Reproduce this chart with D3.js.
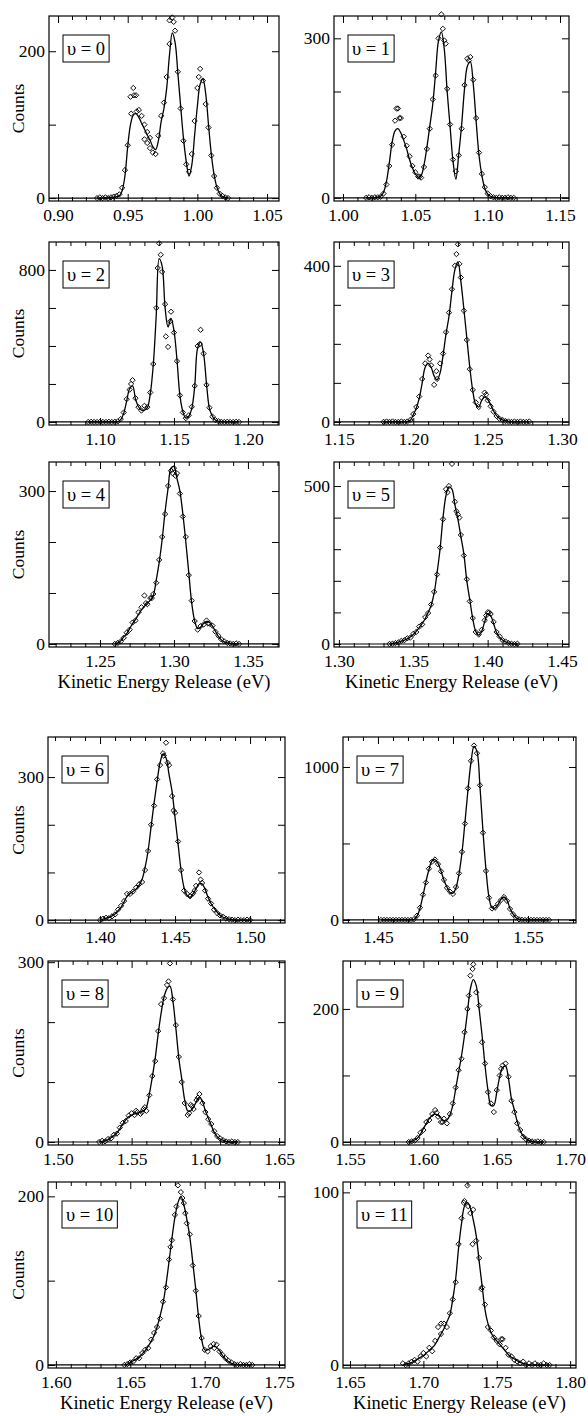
<!DOCTYPE html>
<html>
<head>
<meta charset="utf-8">
<script src="https://cdn.jsdelivr.net/npm/d3@7"></script>
<style>
  body { margin: 0; background: #fff; }
  svg text { font-family: "Liberation Serif", "DejaVu Serif", "Noto Serif", "Times New Roman", serif; fill: #000; }
</style>
</head>
<body>
<div id="chart"></div>
<script>
// each row: [kinetic energy (eV), measured counts, fitted counts]
var v0 = [
  [0.928,0,0],[0.930,1,0],[0.932,0,0],[0.934,1,0],[0.936,0,0],[0.938,1,1],[0.940,2,1],[0.942,3,2],
  [0.944,5,3],[0.946,14,10],[0.948,38,30],[0.950,72,70],[0.952,138,100],[0.954,150,113],[0.956,140,115],
  [0.958,120,110],[0.960,112,102],[0.962,100,94],[0.964,90,86],[0.966,82,79],[0.968,62,70],[0.970,60,66],
  [0.972,85,78],[0.974,112,104],[0.976,130,122],[0.978,165,150],[0.980,210,195],[0.982,246,225],
  [0.984,228,212],[0.986,172,170],[0.988,122,125],[0.990,78,82],[0.992,46,50],[0.994,36,30],[0.996,60,45],
  [0.998,105,85],[1.000,150,125],[1.002,176,155],[1.004,160,162],[1.006,128,142],[1.008,96,100],
  [1.010,58,60],[1.012,30,32],[1.014,14,15],[1.016,6,6],[1.018,3,2],[1.020,1,1],[1.022,0,0]
];
var v0Extra = [[0.9525,115],[0.9545,140],[0.9565,118],[0.962,80],[0.964,75],[0.966,68],[0.980,242],[0.983,240],[1.001,165]];

var v1 = [
  [1.016,0,0],[1.018,1,0],[1.020,0,0],[1.022,1,0],[1.024,1,1],[1.026,2,3],[1.028,8,10],[1.030,25,30],
  [1.032,60,65],[1.034,100,105],[1.036,145,126],[1.038,168,130],[1.040,150,122],[1.042,115,108],
  [1.044,98,92],[1.046,78,72],[1.048,60,56],[1.050,48,45],[1.052,40,39],[1.054,38,42],[1.056,58,62],
  [1.058,92,95],[1.060,130,135],[1.062,185,175],[1.064,230,235],[1.066,300,295],[1.068,345,312],
  [1.070,296,280],[1.072,205,200],[1.074,138,135],[1.076,72,70],[1.078,50,35],[1.080,80,82],
  [1.082,130,137],[1.084,212,205],[1.086,262,248],[1.088,265,256],[1.090,222,215],[1.092,150,145],
  [1.094,85,80],[1.096,45,42],[1.098,20,18],[1.100,8,7],[1.102,3,3],[1.104,1,1],[1.106,0,0],
  [1.108,1,0],[1.110,0,0],[1.112,0,0],[1.114,1,0],[1.116,0,0],[1.118,0,0]
];
var v1Extra = [[1.037,168],[1.039,150],[1.069,318],[1.071,290],[1.087,258],[1.053,40]];

var v2 = [
  [1.092,0,0],[1.094,1,0],[1.096,0,0],[1.098,0,0],[1.100,1,0],[1.102,0,0],[1.104,0,0],[1.106,1,0],
  [1.108,0,0],[1.110,1,0],[1.112,3,2],[1.114,15,12],[1.116,50,45],[1.118,120,110],[1.120,170,175],
  [1.122,220,190],[1.124,125,120],[1.126,78,80],[1.128,60,62],[1.130,85,62],[1.132,78,75],
  [1.134,155,150],[1.136,305,300],[1.138,600,560],[1.140,940,860],[1.142,790,820],[1.144,620,600],
  [1.146,395,500],[1.148,580,545],[1.150,470,480],[1.152,320,330],[1.154,140,140],[1.156,50,55],
  [1.158,20,20],[1.160,35,30],[1.162,80,70],[1.164,190,185],[1.166,400,390],[1.168,485,420],
  [1.170,360,360],[1.172,195,200],[1.174,75,70],[1.176,28,30],[1.178,10,10],[1.180,4,3],[1.182,1,1],
  [1.184,0,0],[1.186,1,0],[1.188,0,0],[1.190,0,0],[1.192,1,0],[1.194,0,0]
];
var v2Extra = [[1.1445,450],[1.1475,530],[1.141,880],[1.139,810],[1.1675,410],[1.121,200]];

var v3 = [
  [1.180,0,0],[1.182,1,0],[1.184,0,0],[1.186,1,0],[1.188,0,0],[1.190,0,0],[1.192,1,0],[1.194,0,0],
  [1.196,1,0],[1.198,5,4],[1.200,20,18],[1.202,38,35],[1.204,65,60],[1.206,110,100],[1.208,150,140],
  [1.210,170,150],[1.212,145,140],[1.214,95,118],[1.216,110,108],[1.218,150,125],[1.220,175,170],
  [1.222,230,225],[1.224,280,270],[1.226,340,335],[1.228,400,390],[1.230,455,410],[1.232,370,360],
  [1.234,285,290],[1.236,210,215],[1.238,135,140],[1.240,82,80],[1.242,50,45],[1.244,38,38],
  [1.246,62,55],[1.248,75,64],[1.250,55,58],[1.252,40,44],[1.254,26,28],[1.256,15,16],[1.258,8,9],
  [1.260,5,5],[1.262,2,3],[1.264,1,1],[1.266,0,0],[1.268,1,0],[1.270,0,0],[1.272,1,0],[1.274,0,0],
  [1.276,0,0],[1.278,1,0]
];
var v3Extra = [[1.229,430],[1.231,405],[1.211,160],[1.2155,130],[1.249,70]];

var v4 = [
  [1.260,0,0],[1.262,2,2],[1.264,5,6],[1.266,12,14],[1.268,22,20],[1.270,28,30],[1.272,42,40],
  [1.274,46,48],[1.276,62,58],[1.278,72,67],[1.280,95,74],[1.282,78,80],[1.284,90,86],[1.286,98,95],
  [1.288,120,125],[1.290,165,160],[1.292,210,205],[1.294,255,260],[1.296,310,305],[1.298,340,345],
  [1.300,345,348],[1.302,335,325],[1.304,295,300],[1.306,250,255],[1.308,210,200],[1.310,135,140],
  [1.312,85,80],[1.314,45,45],[1.316,28,30],[1.318,35,33],[1.320,38,40],[1.322,46,44],[1.324,40,42],
  [1.326,36,35],[1.328,24,25],[1.330,16,15],[1.332,9,8],[1.334,5,4],[1.336,2,2],[1.338,1,1],
  [1.340,0,0],[1.342,1,0],[1.344,0,0]
];
var v4Extra = [[1.299,335],[1.301,330],[1.281,80],[1.285,90],[1.323,40]];

var v5 = [
  [1.334,0,0],[1.336,1,1],[1.338,3,3],[1.340,5,6],[1.342,10,9],[1.344,12,12],[1.346,18,16],
  [1.348,20,22],[1.350,32,30],[1.352,38,40],[1.354,55,52],[1.356,62,65],[1.358,85,80],[1.360,98,100],
  [1.362,125,122],[1.364,165,160],[1.366,220,225],[1.368,305,300],[1.370,395,400],[1.372,490,470],
  [1.374,500,497],[1.376,570,490],[1.378,450,440],[1.380,410,395],[1.382,345,340],[1.384,280,285],
  [1.386,205,200],[1.388,135,140],[1.390,82,80],[1.392,38,40],[1.394,30,28],[1.396,45,40],
  [1.398,75,70],[1.400,100,95],[1.402,95,90],[1.404,70,65],[1.406,38,36],[1.408,24,22],[1.410,12,13],
  [1.412,8,7],[1.414,3,3],[1.416,1,1],[1.418,0,0],[1.420,1,0]
];
var v5Extra = [[1.373,480],[1.379,420],[1.381,400],[1.399,90],[1.401,100]];

var v6 = [
  [1.400,0,0],[1.402,3,2],[1.404,5,4],[1.406,4,6],[1.408,8,9],[1.410,12,13],[1.412,22,20],
  [1.414,30,27],[1.416,40,38],[1.418,55,50],[1.420,55,56],[1.422,60,60],[1.424,68,65],[1.426,75,73],
  [1.428,80,85],[1.430,105,110],[1.432,145,145],[1.434,200,195],[1.436,240,245],[1.438,295,290],
  [1.440,325,330],[1.442,350,348],[1.444,372,340],[1.446,325,305],[1.448,260,270],[1.450,225,215],
  [1.452,165,160],[1.454,105,105],[1.456,62,68],[1.458,55,52],[1.460,50,48],[1.462,56,55],
  [1.464,72,66],[1.466,100,76],[1.468,78,76],[1.470,62,65],[1.472,45,48],[1.474,35,35],[1.476,22,25],
  [1.478,15,17],[1.480,10,10],[1.482,7,6],[1.484,3,4],[1.486,2,2],[1.488,1,1],[1.490,0,0],
  [1.492,1,0],[1.494,0,0],[1.496,0,0],[1.498,1,0],[1.500,0,0]
];
var v6Extra = [[1.4425,345],[1.445,330],[1.449,230],[1.467,85],[1.463,62]];

var v7 = [
  [1.452,0,0],[1.454,0,0],[1.456,0,0],[1.458,0,0],[1.460,0,0],[1.462,0,0],[1.464,0,0],[1.466,0,0],
  [1.468,0,0],[1.470,0,0],[1.472,0,0],[1.474,5,3],[1.476,28,25],[1.478,80,75],[1.480,165,160],
  [1.482,245,250],[1.484,335,330],[1.486,380,385],[1.488,395,395],[1.490,365,370],[1.492,318,320],
  [1.494,262,260],[1.496,210,215],[1.498,185,180],[1.500,170,175],[1.502,215,210],[1.504,305,300],
  [1.506,445,440],[1.508,630,640],[1.510,860,850],[1.512,1040,1030],[1.514,1140,1135],
  [1.516,1090,1100],[1.518,880,870],[1.520,570,580],[1.522,320,330],[1.524,145,150],[1.526,75,80],
  [1.528,80,78],[1.530,105,100],[1.532,130,135],[1.534,150,150],[1.536,125,130],[1.538,72,75],
  [1.540,38,40],[1.542,14,15],[1.544,4,5],[1.546,1,1],[1.548,0,0],[1.550,0,0],[1.552,0,0],
  [1.554,0,0],[1.556,0,0],[1.558,0,0],[1.560,0,0],[1.562,0,0],[1.564,0,0]
];
var v7Extra = [];

var v8 = [
  [1.528,0,0],[1.530,2,1],[1.532,1,2],[1.534,5,4],[1.536,6,7],[1.538,12,11],[1.540,14,15],
  [1.542,24,22],[1.544,32,30],[1.546,35,37],[1.548,44,42],[1.550,48,45],[1.552,45,47],[1.554,50,48],
  [1.556,47,50],[1.558,55,52],[1.560,52,58],[1.562,78,80],[1.564,110,108],[1.566,135,140],
  [1.568,185,180],[1.570,230,215],[1.572,240,242],[1.574,262,256],[1.576,298,260],[1.578,238,235],
  [1.580,195,190],[1.582,142,140],[1.584,100,105],[1.586,65,70],[1.588,45,52],[1.590,62,52],
  [1.592,55,58],[1.594,70,68],[1.596,80,75],[1.598,65,68],[1.600,50,52],[1.602,38,40],[1.604,30,28],
  [1.606,18,16],[1.608,10,9],[1.610,6,5],[1.612,3,3],[1.614,1,1],[1.616,0,0],[1.618,1,0],
  [1.620,0,0],[1.622,0,0]
];
var v8Extra = [[1.553,52],[1.557,50],[1.559,58],[1.575,268],[1.589,48],[1.591,60],[1.595,74]];

var v9 = [
  [1.590,0,0],[1.592,1,1],[1.594,2,3],[1.596,6,6],[1.598,14,12],[1.600,18,20],[1.602,30,28],
  [1.604,33,35],[1.606,42,40],[1.608,48,42],[1.610,38,40],[1.612,30,36],[1.614,35,32],[1.616,28,33],
  [1.618,42,40],[1.620,58,55],[1.622,82,80],[1.624,108,105],[1.626,125,130],[1.628,165,160],
  [1.630,200,195],[1.632,250,230],[1.634,267,244],[1.636,225,235],[1.638,205,200],[1.640,150,160],
  [1.642,118,115],[1.644,75,78],[1.646,58,55],[1.648,45,55],[1.650,78,75],[1.652,100,98],
  [1.654,115,112],[1.656,118,114],[1.658,98,95],[1.660,62,65],[1.662,45,48],[1.664,28,30],
  [1.666,18,17],[1.668,8,9],[1.670,4,5],[1.672,2,2],[1.674,1,1],[1.676,0,0],[1.678,1,0],
  [1.680,0,0],[1.682,0,0]
];
var v9Extra = [[1.6335,260],[1.631,220],[1.609,44],[1.613,30],[1.653,110]];

var v10 = [
  [1.646,0,0],[1.648,1,1],[1.650,3,3],[1.652,4,5],[1.654,8,7],[1.656,8,9],[1.658,14,13],
  [1.660,18,17],[1.662,20,22],[1.664,30,28],[1.666,38,35],[1.668,45,45],[1.670,55,58],[1.672,75,73],
  [1.674,92,95],[1.676,125,122],[1.678,148,150],[1.680,178,175],[1.682,213,192],[1.684,205,200],
  [1.686,192,190],[1.688,168,173],[1.690,155,152],[1.692,118,122],[1.694,88,90],[1.696,58,55],
  [1.698,32,30],[1.700,18,18],[1.702,16,18],[1.704,22,20],[1.706,25,22],[1.708,24,21],[1.710,16,17],
  [1.712,12,11],[1.714,8,7],[1.716,5,4],[1.718,3,2],[1.720,1,1],[1.722,0,0],[1.724,1,0],
  [1.726,0,0],[1.728,0,0],[1.730,1,0],[1.732,0,0]
];
var v10Extra = [[1.681,188],[1.685,198],[1.687,180],[1.677,140],[1.7065,20]];

var v11 = [
  [1.686,1,0],[1.688,0,0.5],[1.690,1,1],[1.692,2,1.5],[1.694,3,2.5],[1.696,2,3.5],[1.698,5,4.5],
  [1.700,7,5.5],[1.702,5,7],[1.704,10,8.5],[1.706,8,10],[1.708,14,12],[1.710,22,15],[1.712,18,18],
  [1.714,24,21],[1.716,22,25],[1.718,30,29],[1.720,38,38],[1.722,48,50],[1.724,70,68],[1.726,85,82],
  [1.728,95,92],[1.730,104,94],[1.732,88,91],[1.734,90,84],[1.736,72,75],[1.738,62,60],[1.740,45,46],
  [1.742,35,32],[1.744,22,24],[1.746,20,19],[1.748,16,16],[1.750,14,14],[1.752,12,12],[1.754,15,10],
  [1.756,10,8],[1.758,6,6],[1.760,5,4.5],[1.762,3,3.5],[1.764,2,2.5],[1.766,1,1.5],[1.768,2,1],
  [1.770,0,0.5],[1.772,1,0],[1.774,0,0],[1.776,1,0],[1.778,0,0],[1.780,0,0],[1.782,1,0],
  [1.784,0,0],[1.786,0,0]
];
var v11Extra = [[1.7275,94],[1.7305,92],[1.7335,70],[1.712,24],[1.7395,44],[1.753,15]];

// axis ranges and labelled y ticks for each vibrational level
var xDomains = [
  [0.8935,1.0586],[0.9938,1.1562],[1.0655,1.2210],[1.1467,1.3047],[1.2155,1.3710],[1.2967,1.4547],
  [1.3653,1.5233],[1.4267,1.5820],[1.4933,1.6540],[1.5452,1.7040],[1.5947,1.7540],[1.6452,1.8040]
];
var yDomains = [
  [-4,248],[-6,342],[-16,947],[-8,461],[-6,357],[-9.5,576],
  [-6,384],[-20,1196],[-5,302],[-4.5,272],[-3.6,217],[-1.7,106]
];
var yMinorSteps = [100,100,200,100,100,100,100,500,100,100,100,100];
var yLabelTicks = [[0,200],[0,300],[0,800],[0,400],[0,300],[0,500],[0,300],[0,1000],[0,300],[0,200],[0,200],[0,100]];

var series = [v0,v1,v2,v3,v4,v5,v6,v7,v8,v9,v10,v11];
var extras = [v0Extra,v1Extra,v2Extra,v3Extra,v4Extra,v5Extra,v6Extra,v7Extra,v8Extra,v9Extra,v10Extra,v11Extra];

var width = 588, height = 1416;
var fontSize = 17.5;
var serif = '"Liberation Serif", "DejaVu Serif", "Noto Serif", serif';

// frame positions of the panel grid (top, bottom) and (left, right)
var rowBox = [[16,201],[242,425],[462,647],[737,923],[961,1145],[1182,1368]];
var colBox = [[[49,279],[334,569]], [[48,285],[343,576]]];

var svg = d3.select("#chart")
   .append("svg")
   .attr("width", width)
   .attr("height", height)
   .style("font-family", serif);

var diamond = d3.symbol().type(d3.symbolSquare).size(14);

series.forEach(function(rows, i) {
   var r = Math.floor(i / 2),
       c = i % 2;
   var xr = colBox[r < 3 ? 0 : 1][c],
       yr = rowBox[r];

   var x = d3.scaleLinear().domain(xDomains[i]).range(xr);
   var y = d3.scaleLinear().domain(yDomains[i]).range([yr[1], yr[0]]);

   var g = svg.append("g");

   // tick values
   var xd = xDomains[i];
   var major = d3.range(Math.ceil(xd[0] * 20), Math.floor(xd[1] * 20) + 1).map(function(k) { return k / 20; });
   var minor = d3.range(Math.ceil(xd[0] * 100), Math.floor(xd[1] * 100) + 1)
      .filter(function(k) { return k % 5 !== 0; })
      .map(function(k) { return k / 100; });
   var yTicks = d3.range(0, yDomains[i][1], yMinorSteps[i]);
   var labels = yLabelTicks[i];

   // bottom axis with labels
   g.append("g")
      .attr("transform", "translate(0," + yr[1] + ")")
      .call(d3.axisBottom(x).tickValues(major).tickSize(-7).tickPadding(8).tickFormat(d3.format(".2f")));
   g.append("g")
      .attr("transform", "translate(0," + yr[1] + ")")
      .call(d3.axisBottom(x).tickValues(minor).tickSize(-4).tickFormat(""));
   // top axis
   g.append("g")
      .attr("transform", "translate(0," + yr[0] + ")")
      .call(d3.axisTop(x).tickValues(major).tickSize(-7).tickFormat(""));
   g.append("g")
      .attr("transform", "translate(0," + yr[0] + ")")
      .call(d3.axisTop(x).tickValues(minor).tickSize(-4).tickFormat(""));
   // left and right axes
   g.append("g")
      .attr("transform", "translate(" + xr[0] + ",0)")
      .call(d3.axisLeft(y).tickValues(yTicks).tickSize(-7).tickPadding(4)
         .tickFormat(function(d) { return labels.indexOf(d) >= 0 ? d : ""; }));
   g.append("g")
      .attr("transform", "translate(" + xr[1] + ",0)")
      .call(d3.axisRight(y).tickValues(yTicks).tickSize(-7).tickFormat(""));

   g.selectAll(".domain").remove();
   g.selectAll("g").attr("font-family", null).attr("font-size", null);
   g.selectAll(".tick line").attr("stroke", "#000").attr("stroke-width", 1);
   g.selectAll(".tick text")
      .attr("font-size", fontSize)
      .style("font-family", serif);

   // zero level of the fit across the whole panel
   g.append("line")
      .attr("x1", xr[0]).attr("x2", xr[1])
      .attr("y1", y(0)).attr("y2", y(0))
      .attr("stroke", "#000")
      .attr("stroke-width", 1.2);

   // fitted curve
   var line = d3.line()
      .x(function(d) { return x(d[0]); })
      .y(function(d) { return y(d[2]); })
      .curve(d3.curveCatmullRom);
   g.append("path")
      .datum(rows)
      .attr("d", line)
      .attr("fill", "none")
      .attr("stroke", "#000")
      .attr("stroke-width", 1.3);

   // measured points as open diamonds
   var pts = rows.map(function(d) { return [d[0], d[1]]; }).concat(extras[i]);
   g.selectAll(".pt")
      .data(pts)
      .enter().append("path")
      .attr("class", "pt")
      .attr("d", diamond)
      .attr("transform", function(d) {
         return "translate(" + x(d[0]) + "," + y(d[1]) + ") rotate(45)";
      })
      .attr("fill", "none")
      .attr("stroke", "#000")
      .attr("stroke-width", 0.9);

   // frame
   g.append("rect")
      .attr("x", xr[0]).attr("y", yr[0])
      .attr("width", xr[1] - xr[0]).attr("height", yr[1] - yr[0])
      .attr("fill", "none")
      .attr("stroke", "#000")
      .attr("stroke-width", 1.2);

   // level label in a box
   var lab = g.append("g").attr("transform", "translate(" + (xr[0] + 14) + "," + (yr[0] + 19) + ")");
   var txt = lab.append("text")
      .attr("x", 4)
      .attr("y", 20)
      .attr("font-size", fontSize + 1)
      .style("font-family", serif)
      .text("\u03c5 = " + i);
   var tw = txt.node().getComputedTextLength();
   lab.insert("rect", "text")
      .attr("width", tw + 8)
      .attr("height", 27)
      .attr("fill", "#fff")
      .attr("stroke", "#000")
      .attr("stroke-width", 1);

   // axis titles
   if (c === 0) {
      svg.append("text")
         .attr("transform", "translate(24," + ((yr[0] + yr[1]) / 2) + ") rotate(-90)")
         .attr("text-anchor", "middle")
         .attr("font-size", fontSize)
         .style("font-family", serif)
         .text("Counts");
   }
   if (r === 2 || r === 5) {
      svg.append("text")
         .attr("x", (xr[0] + xr[1]) / 2)
         .attr("y", yr[1] + 41)
         .attr("text-anchor", "middle")
         .attr("font-size", fontSize + 1)
         .style("font-family", serif)
         .text("Kinetic Energy Release (eV)");
   }
});
</script>
</body>
</html>
